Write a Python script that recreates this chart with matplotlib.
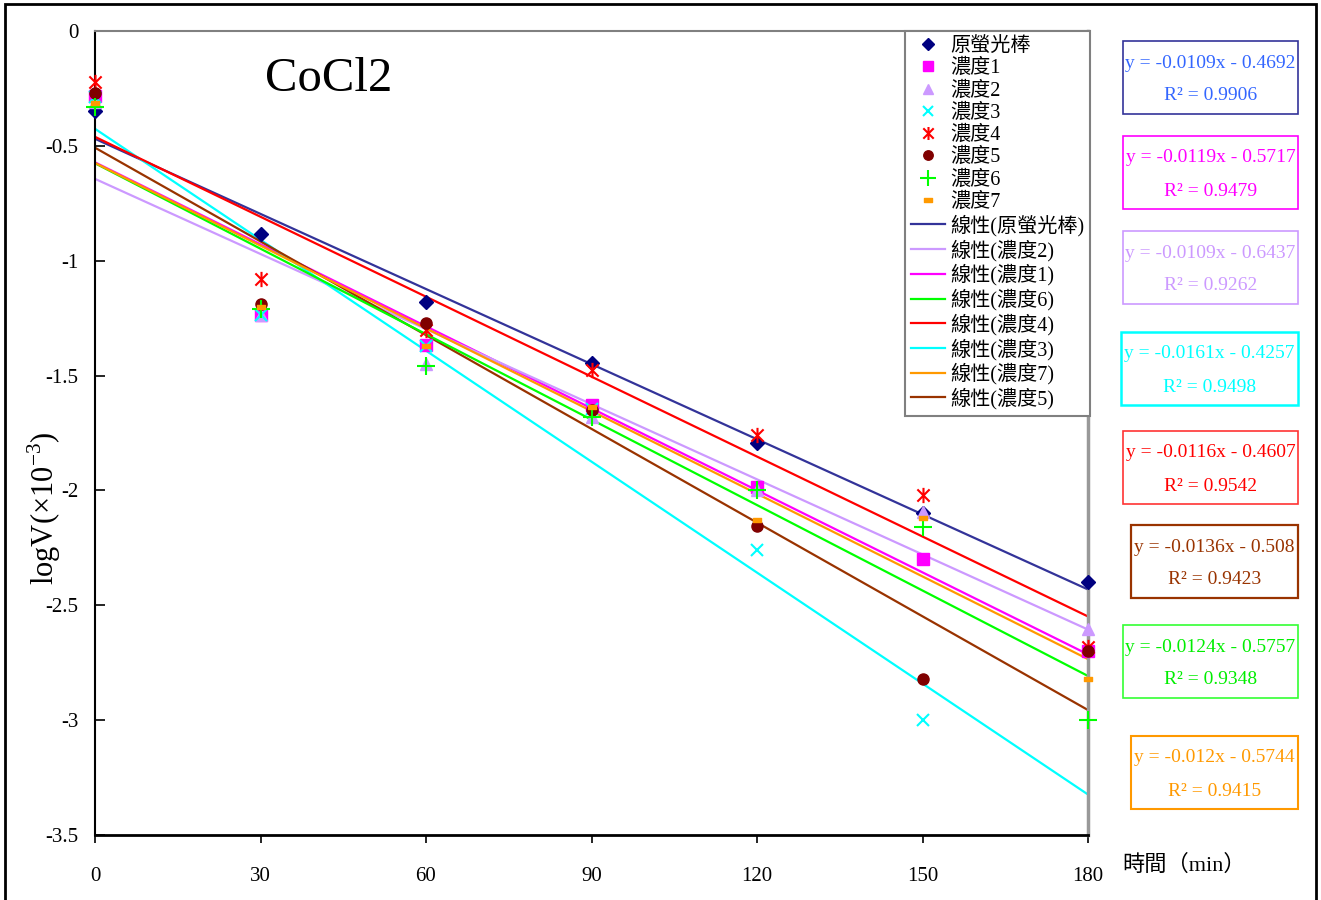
import numpy as np
import matplotlib
matplotlib.use("Agg")
import matplotlib.pyplot as plt
from matplotlib.lines import Line2D
from matplotlib.patches import Rectangle
from matplotlib.path import Path

plt.rcParams['font.family'] = ['Liberation Serif', 'Noto Sans CJK TC']
plt.rcParams['mathtext.fontset'] = 'custom'
plt.rcParams['mathtext.rm'] = 'Liberation Serif'

# ---- DATA ----
minutes = [0, 30, 60, 90, 120, 150, 180]

names = ["原螢光棒", "濃度1", "濃度2", "濃度3", "濃度4", "濃度5", "濃度6", "濃度7"]

orig = [-0.35, -0.884, -1.18, -1.447, -1.792, -2.10, -2.40]
conc1 = [-0.283, -1.236, -1.367, -1.628, -1.985, -2.30, -2.70]
conc2 = [-0.31, -1.236, -1.45, -1.679, -2.00, -2.093, -2.605]
conc3 = [-0.288, -1.236, -1.37, -1.645, -2.26, -3.00, np.nan]
conc4 = [-0.221, -1.08, -1.30, -1.475, -1.759, -2.02, -2.68]
conc5 = [-0.271, -1.19, -1.27, -1.65, -2.155, -2.822, -2.698]
conc6 = [-0.33, -1.21, -1.46, -1.679, -1.998, -2.158, -3.00]
conc7 = [-0.312, -1.20, -1.37, -1.638, -2.129, -2.12, -2.822]

# linear trend lines (same order as names)
slopes = [-0.0109, -0.0119, -0.0109, -0.0161, -0.0116, -0.0136, -0.0124, -0.012]
intercepts = [-0.4692, -0.5717, -0.6437, -0.4257, -0.4607, -0.508, -0.5757, -0.5744]
r_squared = [0.9906, 0.9479, 0.9262, 0.9498, 0.9542, 0.9423, 0.9348, 0.9415]

# order of the trend entries in the legend
trend_order = [0, 2, 1, 6, 4, 3, 7, 5]

# ---- STYLE ----
asterisk = Path([(0, -1), (0, 1), (-0.8, -0.8), (0.8, 0.8), (-0.8, 0.8), (0.8, -0.8)],
                [Path.MOVETO, Path.LINETO] * 3)
dash = Path([(-1, -0.5), (1, -0.5), (1, 0.5), (-1, 0.5), (-1, -0.5)],
            [Path.MOVETO, Path.LINETO, Path.LINETO, Path.LINETO, Path.CLOSEPOLY])

marker_styles = [
    dict(marker='D', color='#000080', ms=7),
    dict(marker='s', color='#ff00ff', ms=8),
    dict(marker='^', color='#cc99ff', ms=9),
    dict(marker='x', color='#00ffff', ms=9, mew=1.5),
    dict(marker=asterisk, color='#ff0000', ms=11, mew=1.5),
    dict(marker='o', color='#800000', ms=8),
    dict(marker='+', color='#00ff00', ms=13, mew=1.5),
    dict(marker=dash, color='#ff9900', ms=6),
]
line_colors = ['#333399', '#ff00ff', '#cc99ff', '#00ffff', '#ff0000', '#993300', '#00ff00', '#ff9900']
text_colors = ['#3366ff', '#ff00ff', '#cc99ff', '#00ffff', '#ff0000', '#993300', '#00ee00', '#ff9900']
box_edges = [('#333399', 1.2), ('#ff00ff', 1.2), ('#cc99ff', 1.2), ('#00ffff', 1.8),
             ('#ff3333', 1.2), ('#993300', 1.6), ('#33ff33', 1.2), ('#ff9900', 1.5)]
box_tops = [41, 136, 231, 332, 431, 525, 625, 736]
box_lefts = [1123, 1123, 1123, 1121, 1123, 1131, 1123, 1131]

W, H = 1321, 900
fig = plt.figure(figsize=(W / 100, H / 100), dpi=100)
ax = fig.add_axes([95 / W, 1 - 835 / H, 993 / W, 804 / H])

series = [orig, conc1, conc2, conc3, conc4, conc5, conc6, conc7]

# trend lines
xs = np.array([0, 180])
for k in range(len(names)):
    ax.plot(xs, slopes[k] * xs + intercepts[k], color=line_colors[k], lw=1.6, zorder=2)

# data points
for k, ys in enumerate(series):
    st = marker_styles[k]
    ax.plot(minutes, ys, ls='none', marker=st['marker'], ms=st['ms'],
            mew=st.get('mew', 1), color=st['color'], zorder=3, clip_on=False)

ax.set_xlim(0, 180)
ax.set_ylim(-3.5, 0)
ax.set_xticks(minutes)
ax.set_yticks(np.arange(-3.5, 0.01, 0.5))
ax.set_yticklabels(["-3.5", "-3", "-2.5", "-2", "-1.5", "-1", "-0.5", "0"])
ax.tick_params(axis='y', direction='in', length=7, width=1.2, labelsize=15, pad=12)
ax.tick_params(axis='x', direction='out', length=6, width=1.2, labelsize=15, pad=17)

ax.spines['left'].set_linewidth(1.5)
ax.spines['bottom'].set_linewidth(2)
ax.spines['top'].set_color('#808080')
ax.spines['top'].set_linewidth(1.5)
ax.spines['right'].set_color('#999999')
ax.spines['right'].set_linewidth(2.5)

ax.set_ylabel("logV(×10$^{\\mathrm{-3}}$)", fontsize=22)
ax.yaxis.set_label_coords(-0.032, 0.407)
ax.text(0.171, 0.94, "CoCl2", transform=ax.transAxes, fontsize=35, va='center', ha='left')
fig.text(1122 / W, 1 - 865 / H, "時間（min）", fontsize=16, va='center', ha='left')

# legend: markers first, then trend lines
handles = []
labels = []
for k in range(len(names)):
    st = marker_styles[k]
    handles.append(Line2D([], [], ls='none', marker=st['marker'], ms=st['ms'] * 0.85,
                          mew=st.get('mew', 1), color=st['color']))
    labels.append(names[k])
for k in trend_order:
    handles.append(Line2D([], [], color=line_colors[k], lw=1.6))
    labels.append("線性(" + names[k] + ")")
leg = ax.legend(handles, labels, loc='upper right', bbox_to_anchor=(1.002, 1.0),
                borderaxespad=0, fontsize=14.5, labelspacing=0.15, handlelength=1.7,
                handletextpad=0.25, borderpad=0.3, fancybox=False, framealpha=1)
leg.get_frame().set_edgecolor('#808080')
leg.get_frame().set_linewidth(1.5)

# equation boxes
for k in range(len(names)):
    top = box_tops[k]
    left = box_lefts[k]
    ec, lw = box_edges[k]
    fig.add_artist(Rectangle((left / W, 1 - (top + 73) / H), (1298 - left) / W, 73 / H,
                             transform=fig.transFigure, fill=False, ec=ec, lw=lw))
    cx = (left + 1298) / 2 / W
    eq = f"y = {slopes[k]:g}x - {abs(intercepts[k]):g}"
    fig.text(cx, 1 - (top + 22) / H, eq, color=text_colors[k], fontsize=14,
             ha='center', va='center')
    fig.text(cx, 1 - (top + 55) / H, f"R² = {r_squared[k]:g}", color=text_colors[k],
             fontsize=14, ha='center', va='center')

# outer frame
fig.add_artist(Rectangle((5 / W, -0.05), 1311 / W, 1 - 4 / H + 0.05, transform=fig.transFigure,
                         fill=False, ec='black', lw=2, clip_on=False))

fig.savefig("out.png", dpi=100)
